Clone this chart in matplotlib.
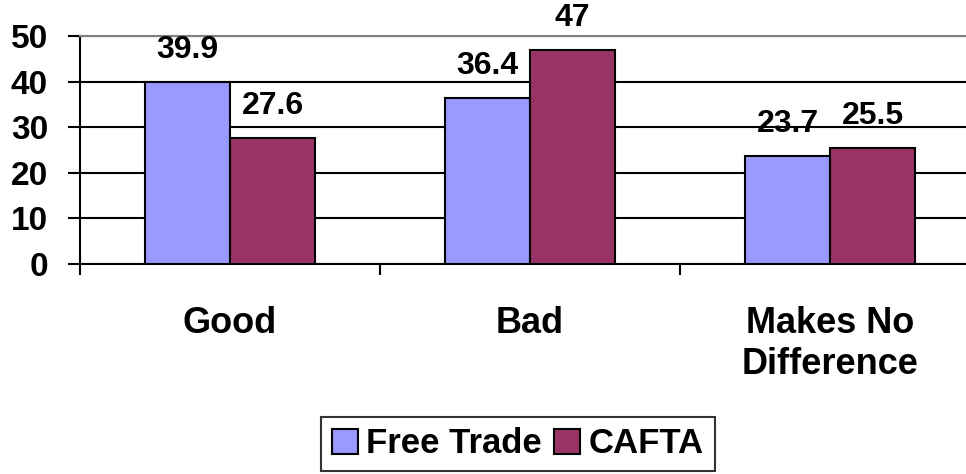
import numpy as np
import matplotlib.pyplot as plt

categories = ["Good", "Bad", "Makes No\nDifference"]
free_trade = [39.9, 36.4, 23.7]
cafta = [27.6, 47, 25.5]
series_names = ["Free Trade", "CAFTA"]

plt.rcParams['font.family'] = ['Liberation Sans', 'DejaVu Sans']
plt.rcParams['font.weight'] = 'bold'

fig = plt.figure(figsize=(9.66, 4.74), dpi=100)
ax = fig.add_axes([80 / 966, 210 / 474, 900 / 966, 228 / 474])

x = np.arange(len(categories))
w = 0.283
b1 = ax.bar(x - w / 2, free_trade, w, color='#9999FF', edgecolor='black',
            linewidth=1.5, label=series_names[0], zorder=3)
b2 = ax.bar(x + w / 2, cafta, w, color='#993366', edgecolor='black',
            linewidth=1.5, label=series_names[1], zorder=3)

for bars, vals in [(b1, free_trade), (b2, cafta)]:
    for bar, v in zip(bars, vals):
        ax.annotate(f"{v:g}", (bar.get_x() + bar.get_width() / 2, v),
                    xytext=(0, 17), textcoords='offset pixels',
                    ha='center', va='bottom', fontsize=23, fontweight='bold')

ax.set_xlim(-0.5, 2.5)
ax.set_ylim(0, 50)
ax.set_yticks(range(0, 51, 10))
ax.yaxis.grid(True, color='black', linewidth=1.5, zorder=0)
ax.tick_params(axis='y', direction='out', length=9, width=1.5, pad=14,
               labelsize=24)

# category boundaries get the tick marks, names sit at the centres
ax.set_xticks([-0.5, 0.5, 1.5, 2.5])
ax.set_xticklabels([])
ax.tick_params(axis='x', which='major', direction='out', length=8, width=1.5)
ax.set_xticks(x, minor=True)
ax.set_xticklabels(categories, minor=True, fontsize=26, fontweight='bold',
                   linespacing=1.25)
ax.tick_params(axis='x', which='minor', length=0, pad=30)

ax.spines['top'].set_color('#808080')
ax.spines['top'].set_linewidth(1.5)
ax.spines['right'].set_visible(False)
ax.spines['left'].set_linewidth(1.5)
ax.spines['bottom'].set_linewidth(1.5)

leg = fig.legend(loc='upper center', bbox_to_anchor=(518 / 966, 1 - 417 / 474),
                 ncol=2, fontsize=25, frameon=True, fancybox=False,
                 edgecolor='black', handlelength=0.75, handleheight=0.75,
                 handletextpad=0.25, columnspacing=0.35, borderpad=0.3,
                 borderaxespad=0)
leg.get_frame().set_linewidth(1.5)
for t in leg.get_texts():
    t.set_fontweight('bold')

fig.savefig('out.png', dpi=100)
